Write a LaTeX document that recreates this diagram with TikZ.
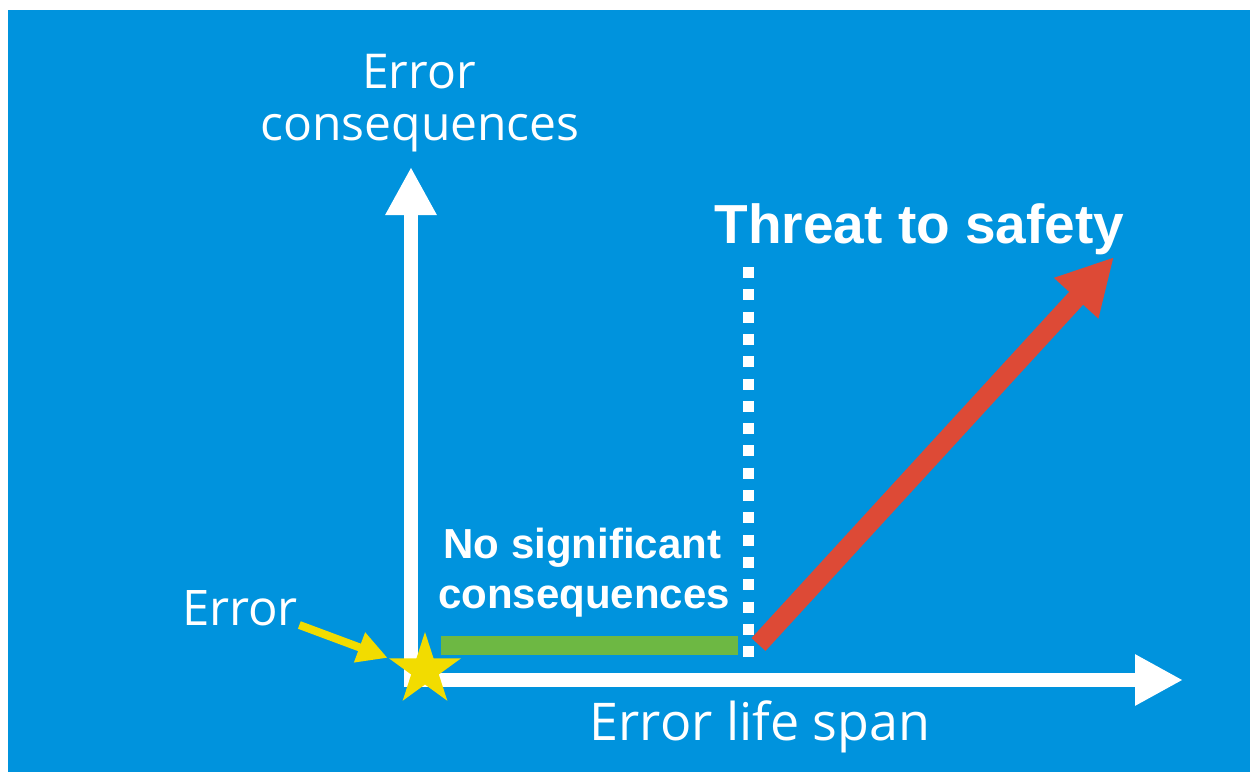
\documentclass[tikz,border=0pt]{standalone}
\usepackage{fontspec}
\newfontfamily\handfont{Open Sans}
\newfontfamily\arialfont{Liberation Sans}
\usetikzlibrary{arrows.meta, shapes.geometric}
\definecolor{bgblue}{HTML}{0093DD}
\definecolor{okgreen}{HTML}{6DB843}
\definecolor{riskred}{HTML}{DD4A36}
\definecolor{erryellow}{HTML}{F2DC00}

\begin{document}
\begin{tikzpicture}[x=0.5pt, y=-0.5pt,
    axis/.style={white, line width=7.25pt, line join=miter,
        {Triangle[width=24pt,length=24pt]}-{Triangle[width=24pt,length=24pt]}},
    hand/.style={white, inner sep=0pt, anchor=base, font=\handfont\fontsize{#1}{#1}\selectfont},
    heavytext/.style={white, inner sep=0pt, anchor=base, font=\arialfont\bfseries\fontsize{#1}{#1}\selectfont},
    pointer/.style={erryellow, line width=4pt, -{Triangle[width=15pt,length=15pt]}},
    riskarrow/.style={riskred, line width=9.5pt, -{Triangle[width=28pt,length=28pt]}},
    limitline/.style={white, line width=5.5pt, dash pattern=on 5.5pt off 5.65pt}]
    \useasboundingbox (0,0) rectangle (1250,772);
    \fill[bgblue] (8,10) rectangle (1262,784);

            %% axes
            \coordinate (origin) at (411,680);
            \coordinate (ytip) at (411,167);
            \coordinate (xtip) at (1183,680);
            \draw[axis] (ytip) -- (origin) -- (xtip);

            \node[hand=24pt] (ytop) at (419,88) {Error};
            \node[hand=24pt] (ybot) at (420,140) {consequences};
            \node[hand=26pt] (xlabel) at (760,740) {Error life span};

            %% no significant consequences
            \fill[okgreen] (441,636) rectangle (738,655);
            \node[heavytext=21pt] (nocons1) at (582.5,558) {No significant};
            \node[heavytext=21pt] (nocons2) at (584,608) {consequences};

            %% limit
            \coordinate (limittop) at (748.5,267);
            \coordinate (limitbot) at (748.5,657);
            \draw[limitline] (limittop) -- (limitbot);

            %% threat
            \coordinate (riskstart) at (758.5,644.5);
            \coordinate (risktip) at (1114,257);
            \draw[riskarrow] (riskstart) -- (risktip);
            \node[heavytext=27.5pt] (threat) at (919.5,243) {Threat to safety};

            %% error
            \node[star, star points=5, star point ratio=2.618, minimum size=38pt,
                inner sep=0pt, fill=erryellow] (star) at (425,670) {};
            \node[hand=24.5pt] (errlabel) at (240,625) {Error};
            \draw[pointer] ([xshift=0.5pt]errlabel.base east) -- (star.outer point 2);

\end{tikzpicture}
\end{document}
